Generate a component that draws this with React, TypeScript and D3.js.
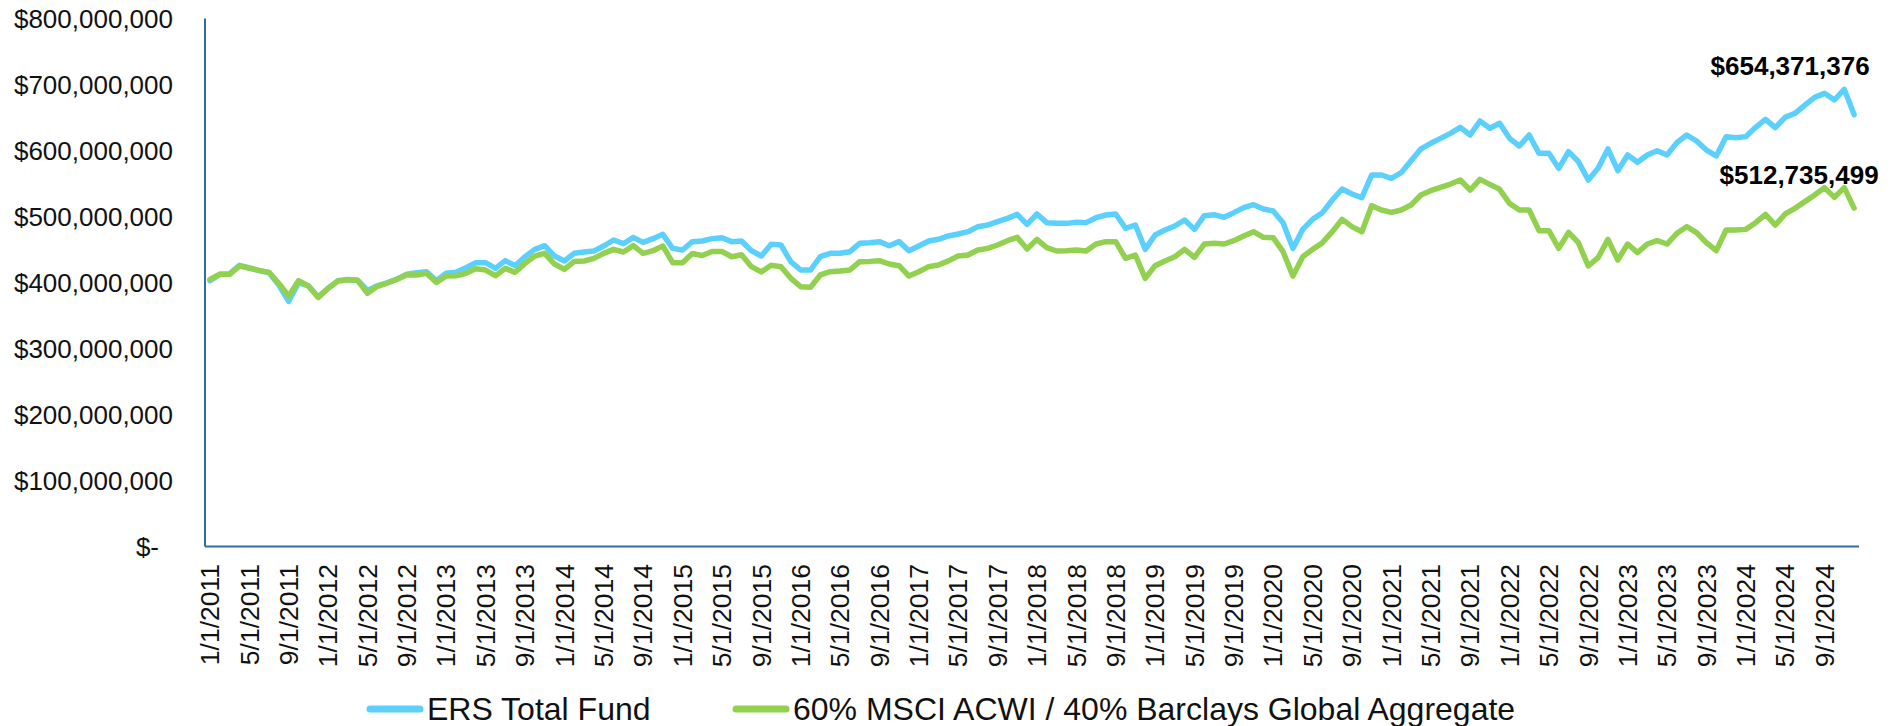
import React from 'react';
import * as d3 from 'd3';

// monthly categories 1/1/2011 .. 12/1/2024
const months: string[] = d3
  .timeMonth.range(new Date(2011, 0, 1), new Date(2025, 0, 1))
  .map((d) => `${d.getMonth() + 1}/1/${d.getFullYear()}`);

// every 4th month is labelled on the axis
const xTickLabels: string[] = months.filter((_, i) => i % 4 === 0);

// y ticks, in millions of dollars
const yTicks: number[] = [0, 100, 200, 300, 400, 500, 600, 700, 800];

// ERS Total Fund, $ millions
const ersTotalFund: number[] = [
  402.8, 412.4, 413, 426, 422, 418, 415, 396, 371.5, 399.7, 395, 378,
  391, 402.5, 404.5, 403.5, 388, 395, 399.5, 405, 412.5, 414.9, 416.4, 402.8,
  413.9, 415.4, 422.5, 430, 430, 421.4, 433.1, 425.5, 439.1, 450.2, 455.8, 440.1,
  432.6, 444.2, 446.2, 447.7, 455.3, 464.4, 458.8, 468.4, 460.8, 466.4, 473, 451.7,
  449.2, 461.9, 462.9, 466.4, 467.9, 461.9, 462.9, 448.2, 440.1, 457.8, 456.8, 431.6,
  418.9, 418.9, 439.1, 444.2, 444.2, 446.7, 459.3, 460.3, 461.9, 455.8, 461.9, 448.2,
  455.3, 462.9, 465.5, 470.5, 473.5, 477, 484.6, 487.1, 492.2, 497.2, 503.3, 488.1,
  503.8, 490.7, 489.6, 489.6, 491.2, 490.7, 498.2, 502.3, 503.8, 482.1, 487.1, 450.2,
  471.9, 479.5, 485.6, 494.7, 480.5, 501.3, 502.8, 498.7, 505.8, 513.4, 517.9, 511.4,
  508.3, 490.6, 451.7, 480.5, 495.7, 505.8, 525, 541.7, 534.1, 528.5, 562.9, 562.9,
  557.8, 566.4, 584.6, 602.3, 610.9, 618.4, 626, 635.1, 623.5, 644.7, 633.6, 641.2,
  618.4, 606.8, 623.5, 595.7, 595.7, 573, 598.2, 583.1, 555.3, 573, 602.3, 569.4,
  593.2, 582.1, 593.2, 599.7, 593.2, 611.9, 623.5, 614.4, 600.7, 591.7, 621, 619.4,
  621, 635.1, 647.2, 634.6, 650.3, 656.3, 668.9, 680.5, 686.6, 676.5, 692.7, 654.371376,
];

// 60% MSCI ACWI / 40% Barclays Global Aggregate, $ millions
const benchmark: number[] = [
  404.8, 412.4, 412.4, 425, 422, 418.4, 415.4, 398.7, 379.5, 402.8, 394.7, 377.5,
  391.2, 402.3, 404.3, 403.3, 383.6, 394.2, 399.2, 404.8, 411.9, 411.4, 413.9, 400.2,
  409.8, 410.3, 413.9, 420.9, 418.9, 410.3, 421.4, 415.4, 429, 440.1, 444.2, 428,
  419.9, 432, 432.6, 436.6, 444.2, 450.2, 446.2, 455.8, 444.2, 448.2, 455.3, 430,
  430, 444, 441, 447, 447, 439, 442, 424, 416, 426, 424, 406.3,
  393.7, 392.7, 411.4, 416.4, 417.4, 418.9, 431.6, 432, 433.1, 428, 425.5, 409.8,
  416.4, 424, 426.5, 432.8, 440.1, 441.6, 449.2, 451.7, 456.8, 463.4, 468.4, 450.7,
  465.4, 452.8, 447.7, 448.2, 449.2, 447.7, 458.3, 461.9, 461.9, 436.6, 441.6, 406.3,
  425.5, 432.6, 439.1, 450.2, 438.1, 458.3, 459.3, 458.3, 463.4, 470.4, 477, 468.4,
  467.9, 446.7, 409.8, 439.1, 450.2, 460.3, 477, 495.7, 484.6, 477, 516.4, 509.8,
  506.3, 509.8, 517.4, 532.6, 539.1, 544.2, 549.2, 555.3, 540.1, 556.3, 548.7, 541.2,
  519.9, 509.8, 509.8, 478.5, 478.5, 451.7, 476, 460.3, 425, 437.6, 465.4, 434.1,
  458.3, 445.2, 458.3, 463.4, 458.3, 474.5, 484.6, 475.5, 460.3, 448.2, 479.5, 479.5,
  480.5, 490.6, 503.3, 487.1, 503.8, 512.4, 522.5, 532.6, 543.7, 529, 543.7, 512.735499,
];

const seriesNames = ['ERS Total Fund', '60% MSCI ACWI / 40% Barclays Global Aggregate'];
const seriesColors = ['#5CD0FC', '#92D050'];

const FONT = '"Liberation Sans", Arial, Helvetica, sans-serif';
const AXIS_COLOR = '#2F6E9F';

const money = (v: number) => (v === 0 ? '$-' : '$' + d3.format(',')(Math.round(v * 1e6)));

const App = () => {
  const width = 1904;
  const height = 726;
  const margin = { top: 18.5, right: 45, bottom: 179.5, left: 205 };

  const xScale = d3
    .scaleBand()
    .domain(months)
    .range([margin.left, width - margin.right])
    .padding(0);
  const half = xScale.bandwidth() / 2;
  const cx = (m: string) => (xScale(m) as number) + half;

  const yScale = d3
    .scaleLinear()
    .domain([0, 800])
    .range([height - margin.bottom, margin.top]);

  const line = d3
    .line<number>()
    .x((_, i) => cx(months[i]))
    .y((d) => yScale(d));

  const series = [ersTotalFund, benchmark];
  const lastMonth = months[months.length - 1];
  const baseY = yScale(0);

  const endLabels = [
    { v: ersTotalFund[ersTotalFund.length - 1], dx: -64, dy: -40 },
    { v: benchmark[benchmark.length - 1], dx: -55, dy: -24 },
  ];

  const legend = [
    { x1: 370, x2: 420, tx: 427 },
    { x1: 736, x2: 786, tx: 793 },
  ];

  return (
    <svg
      width={width}
      height={height}
      style={{ position: 'absolute', left: 0, top: 0, background: '#fff' }}
      fontFamily={FONT}
    >
      {/* y tick labels */}
      {yTicks.map((t) => (
        <text
          key={t}
          x={t === 0 ? 159 : 173}
          y={yScale(t)}
          dy="0.35em"
          textAnchor="end"
          fontSize={26}
          fill="#111"
        >
          {money(t)}
        </text>
      ))}

      {/* x tick labels */}
      {xTickLabels.map((m) => (
        <text
          key={m}
          transform={`translate(${cx(m)},${baseY + 17.5}) rotate(-90)`}
          dy="0.35em"
          textAnchor="end"
          fontSize={26.5}
          fill="#111"
        >
          {m}
        </text>
      ))}

      {/* series */}
      {series.map((s, k) => (
        <path
          key={k}
          d={line(s) as string}
          fill="none"
          stroke={seriesColors[k]}
          strokeWidth={5.5}
          strokeLinejoin="round"
          strokeLinecap="round"
        />
      ))}

      {/* axes */}
      <line x1={margin.left} x2={margin.left} y1={margin.top} y2={baseY} stroke={AXIS_COLOR} strokeWidth={2} />
      <line x1={margin.left} x2={width - margin.right} y1={baseY} y2={baseY} stroke={AXIS_COLOR} strokeWidth={2} />

      {/* end value labels */}
      {endLabels.map((l, k) => (
        <text
          key={k}
          x={cx(lastMonth) + l.dx}
          y={yScale(l.v) + l.dy}
          textAnchor="middle"
          fontSize={26}
          fontWeight="bold"
          fill="#000"
        >
          {money(l.v)}
        </text>
      ))}

      {/* legend */}
      {legend.map((g, k) => (
        <g key={k}>
          <line
            x1={g.x1}
            x2={g.x2}
            y1={709}
            y2={709}
            stroke={seriesColors[k]}
            strokeWidth={7}
            strokeLinecap="round"
          />
          <text x={g.tx} y={720} fontSize={32} fill="#111">
            {seriesNames[k]}
          </text>
        </g>
      ))}
    </svg>
  );
};

export default App;
